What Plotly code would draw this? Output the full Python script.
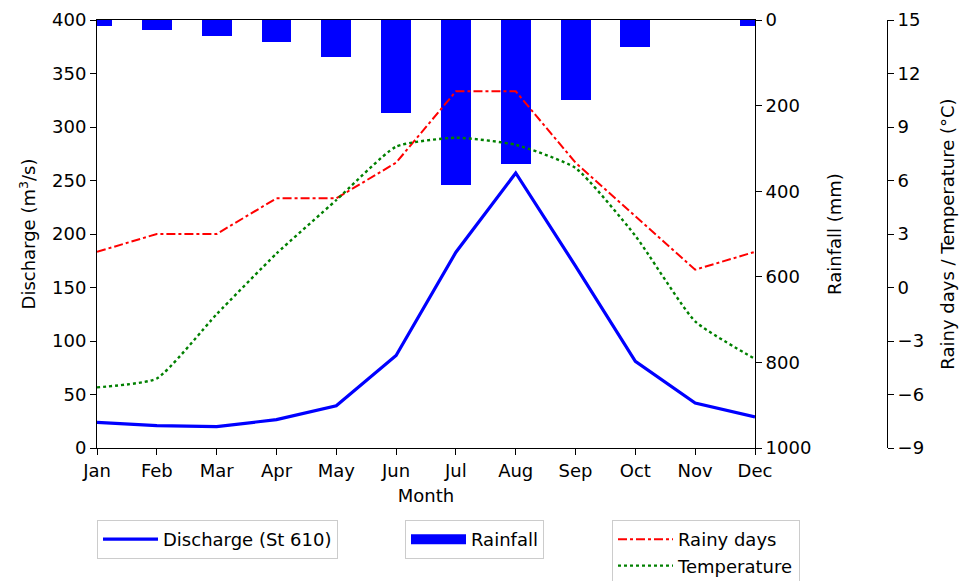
import plotly.graph_objects as go

months = ["Jan", "Feb", "Mar", "Apr", "May", "Jun", "Jul", "Aug", "Sep", "Oct", "Nov", "Dec"]
discharge = [24, 21, 20, 26.5, 39.5, 86.5, 183, 257, 170, 81, 42, 29]
rainfall = [15, 23, 37, 52, 87, 218, 385, 337, 188, 63, 0, 14]
rainy_days = [2, 3, 3, 5, 5, 7, 11, 11, 7, 4, 1, 2]
temperature = [-5.6, -5.1, -1.5, 1.9, 4.9, 7.9, 8.4, 8.0, 6.7, 2.9, -1.9, -4.0]

rain_ticks = [0, 200, 400, 600, 800, 1000]
temp_ticks = [-9, -6, -3, 0, 3, 6, 9, 12, 15]

FONT = "DejaVu Sans"
FS = 18
W, H = 959, 581
L, R, T, B = 97, 40, 20, 133
pw = W - L - R
ph = H - T - B

fig = go.Figure()

fig.add_trace(go.Scatter(x=months, y=discharge, mode="lines", name="Discharge (St 610)",
                         line=dict(color="#0000ff", width=3.2), yaxis="y", legend="legend"))
fig.add_trace(go.Bar(x=months, y=rainfall, width=0.5, marker=dict(color="#0000ff", line=dict(width=0)),
                     name="Rainfall", yaxis="y2", showlegend=False))
fig.add_trace(go.Scatter(x=[None], y=[None], mode="lines", name="Rainfall",
                         line=dict(color="#0000ff", width=18), yaxis="y2", legend="legend2"))
fig.add_trace(go.Scatter(x=months, y=rainy_days, mode="lines", name="Rainy days",
                         line=dict(color="#ff0000", width=2, dash="dashdot"), yaxis="y3", legend="legend3"))
fig.add_trace(go.Scatter(x=months, y=temperature, mode="lines", name="Temperature",
                         line=dict(color="#008000", width=2.4, dash="dot", shape="spline", smoothing=0.5),
                         yaxis="y3", legend="legend3"))

axis_common = dict(showgrid=False, zeroline=False, showline=True, linecolor="black", linewidth=1,
                   ticks="outside", ticklen=6, tickwidth=1, tickcolor="black",
                   tickfont=dict(family=FONT, size=FS, color="black"))

xdom = (755 - L) / pw

legend_common = dict(xanchor="left", yanchor="top", bordercolor="#cccccc", borderwidth=1,
                     font=dict(family=FONT, size=FS, color="black"), bgcolor="white", itemwidth=55)
ly = (448 - 520) / ph

fig.update_layout(
    width=W, height=H,
    margin=dict(l=L, r=R, t=T, b=B, autoexpand=False),
    paper_bgcolor="white", plot_bgcolor="white",
    font=dict(family=FONT, size=FS, color="black"),
    xaxis=dict(domain=[0, xdom], type="category", range=[0, 11], mirror=True,
               title=dict(text="Month", font=dict(family=FONT, size=FS), standoff=9), **axis_common),
    yaxis=dict(range=[0, 400], dtick=50,
               title=dict(text="Discharge (m<sup>3</sup>/s)", font=dict(family=FONT, size=FS), standoff=11),
               **axis_common),
    yaxis2=dict(range=[1000, 0], tickvals=rain_ticks, overlaying="y", side="right", anchor="x",
                title=dict(text="Rainfall (mm)", font=dict(family=FONT, size=FS), standoff=17),
                **axis_common),
    yaxis3=dict(range=[-9, 15], tickvals=temp_ticks, overlaying="y", side="right", anchor="free",
                position=(887 - L) / pw,
                title=dict(text="Rainy days / Temperature (°C)", font=dict(family=FONT, size=FS), standoff=18),
                **axis_common),
    legend=dict(x=0, y=ly, **legend_common),
    legend2=dict(x=(405 - L) / pw, y=ly, **legend_common),
    legend3=dict(x=(612 - L) / pw, y=ly, **legend_common),
    bargap=0,
)

fig.write_html("out.html")
